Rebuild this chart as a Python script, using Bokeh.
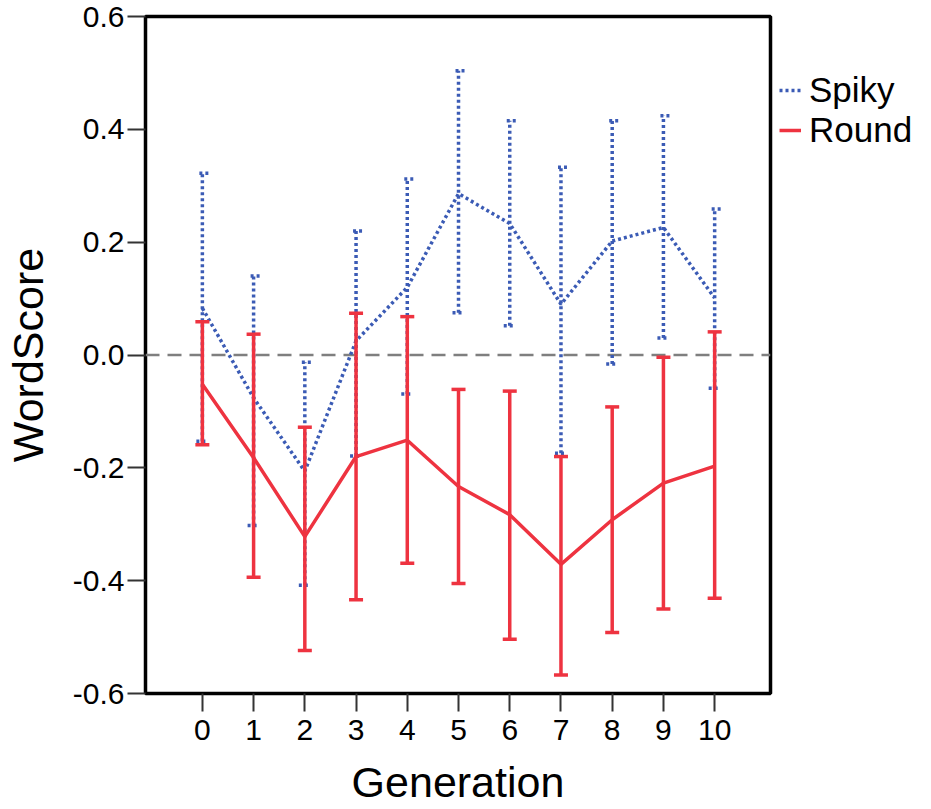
import numpy as np
from bokeh.plotting import figure
from bokeh.layouts import row
from bokeh.models import (ColumnDataSource, Whisker, TeeHead, Span, FixedTicker,
                          NumeralTickFormatter, Legend, LegendItem, Range1d)
from bokeh.embed import file_html
from bokeh.resources import INLINE

# ---- data ----
generation = [0, 1, 2, 3, 4, 5, 6, 7, 8, 9, 10]
spiky_mean = [0.083, -0.076, -0.206, 0.025, 0.120, 0.286, 0.233, 0.090, 0.202, 0.226, 0.101]
spiky_upper = [0.322, 0.140, -0.013, 0.220, 0.312, 0.504, 0.415, 0.333, 0.415, 0.424, 0.259]
spiky_lower = [-0.153, -0.302, -0.408, -0.179, -0.069, 0.075, 0.052, -0.174, -0.016, 0.030, -0.059]
round_mean = [-0.052, -0.182, -0.322, -0.180, -0.151, -0.233, -0.283, -0.371, -0.292, -0.227, -0.197]
round_upper = [0.059, 0.037, -0.128, 0.074, 0.068, -0.061, -0.064, -0.180, -0.092, -0.004, 0.041]
round_lower = [-0.159, -0.394, -0.524, -0.434, -0.369, -0.405, -0.504, -0.567, -0.492, -0.450, -0.431]
y_ticks = [-0.6, -0.4, -0.2, 0.0, 0.2, 0.4, 0.6]
series_names = ["Spiky", "Round"]

blue = "#3B5BB5"
red = "#EE3340"
FONT = "Liberation Sans"

p = figure(width=775, height=809,
           x_range=Range1d(-1.11, 11.09), y_range=Range1d(-0.6, 0.6),
           output_backend="svg", toolbar_location=None,
           min_border_left=145, min_border_right=5,
           min_border_top=16, min_border_bottom=116)

p.grid.visible = False
p.outline_line_color = "black"
p.outline_line_width = 3.5
p.outline_line_alpha = 1.0
p.background_fill_color = "white"
p.border_fill_color = "white"

src_s = ColumnDataSource(dict(x=generation, mean=spiky_mean, upper=spiky_upper, lower=spiky_lower))
src_r = ColumnDataSource(dict(x=generation, mean=round_mean, upper=round_upper, lower=round_lower))

# zero reference line
p.add_layout(Span(location=0, dimension="width", line_color="#7f7f7f",
                  line_width=2.5, line_dash="14 8", level="underlay"))

# spiky error bars (dotted)
w_s = Whisker(base="x", upper="upper", lower="lower", source=src_s, dimension="height",
              line_color=blue, line_width=3.5, line_dash="3 3", level="underlay",
              upper_head=TeeHead(size=12, line_color=blue, line_width=3.5, line_dash="3 3"),
              lower_head=TeeHead(size=12, line_color=blue, line_width=3.5, line_dash="3 3"))
p.add_layout(w_s)

p.line("x", "mean", source=src_s, line_color=blue, line_width=3.5, line_dash="3 3")
p.line("x", "mean", source=src_r, line_color=red, line_width=3.5)

# round error bars (solid)
w_r = Whisker(base="x", upper="upper", lower="lower", source=src_r, dimension="height",
              line_color=red, line_width=3.5, level="overlay",
              upper_head=TeeHead(size=14, line_color=red, line_width=3.5),
              lower_head=TeeHead(size=14, line_color=red, line_width=3.5))
p.add_layout(w_r)

# axes
p.xaxis.ticker = FixedTicker(ticks=generation)
p.yaxis.ticker = FixedTicker(ticks=y_ticks)
p.yaxis.formatter = NumeralTickFormatter(format="0.0")
p.xaxis.axis_label = "Generation"
p.yaxis.axis_label = "WordScore"
for ax in (p.xaxis, p.yaxis):
    ax.axis_line_color = None
    ax.major_tick_out = 18
    ax.major_tick_in = 0
    ax.minor_tick_line_color = None
    ax.major_tick_line_color = "#333333"
    ax.major_tick_line_width = 2
    ax.major_label_text_font = FONT
    ax.major_label_text_font_size = "30px"
    ax.major_label_text_color = "black"
    ax.axis_label_text_font = FONT
    ax.axis_label_text_font_size = "43px"
    ax.axis_label_text_font_style = "normal"
    ax.axis_label_text_color = "black"
p.yaxis.major_label_standoff = 3
p.xaxis.major_label_standoff = 8
p.yaxis.axis_label_standoff = 18
p.xaxis.axis_label_standoff = 15

# ---- legend panel on the right (frame aligned with the chart's frame) ----
lg = figure(width=156, height=809, x_range=Range1d(100, 101), y_range=Range1d(100, 101),
            output_backend="svg", toolbar_location=None,
            x_axis_location=None, y_axis_location=None,
            min_border_left=0, min_border_right=0,
            min_border_top=16, min_border_bottom=116)
lg.grid.visible = False
lg.outline_line_color = None
lg.background_fill_color = "white"
lg.border_fill_color = "white"
ls_proxy = lg.line(generation, spiky_mean, line_color=blue, line_width=3.5, line_dash="3 3")
lr_proxy = lg.line(generation, round_mean, line_color=red, line_width=3.5)

legend = Legend(items=[LegendItem(label=series_names[0], renderers=[ls_proxy]),
                       LegendItem(label=series_names[1], renderers=[lr_proxy])],
                location=(4, 543), orientation="vertical",
                label_text_font=FONT, label_text_font_size="35px",
                label_text_color="black",
                glyph_width=22, glyph_height=30, label_standoff=8,
                spacing=0, padding=0, margin=0,
                border_line_color=None, background_fill_alpha=0)
lg.add_layout(legend, "center")

layout = row(p, lg, spacing=0)
open("out.html", "w").write(file_html(layout, INLINE))
